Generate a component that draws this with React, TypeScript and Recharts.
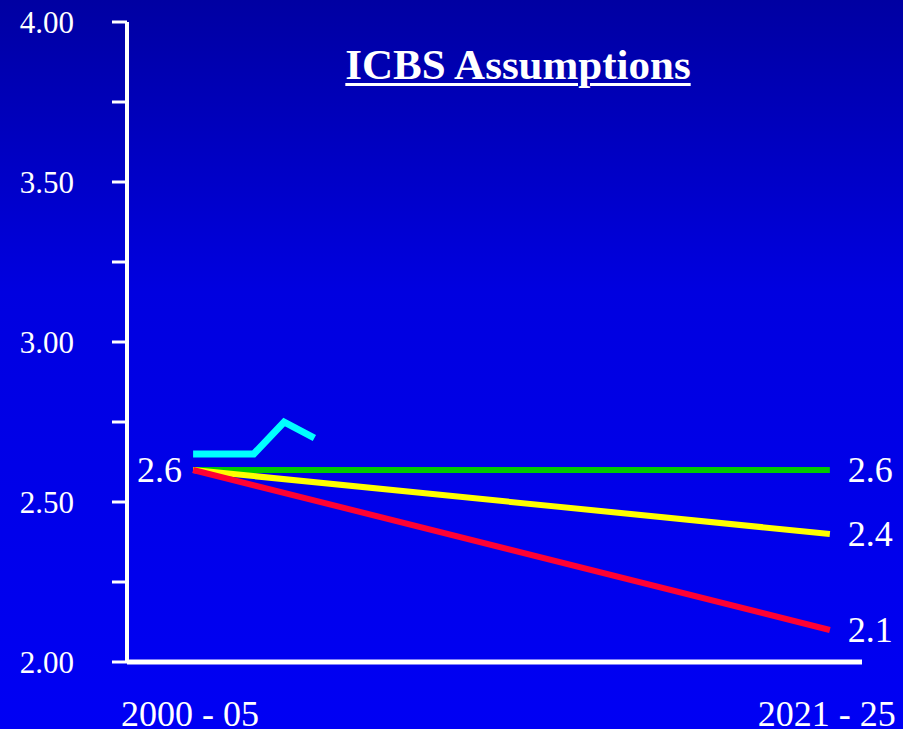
import React from 'react';
import { LineChart, Line, XAxis, YAxis } from 'recharts';

// actual series (yearly)
const actualYears = [2000, 2002, 2003, 2004];
const actualValues = [2.65, 2.65, 2.75, 2.7];

// projection end points
const projYears = [2000, 2021];
const highValues = [2.6, 2.6];
const mediumValues = [2.6, 2.4];
const lowValues = [2.6, 2.1];

const xTicks = [2000, 2021];
const xTickLabels = ['2000 - 05', '2021 - 25'];
const yTicks = [2, 2.25, 2.5, 2.75, 3, 3.25, 3.5, 3.75, 4];

const FONT = "'Liberation Serif', 'Times New Roman', serif";

const actualData = actualYears.map((year, i) => ({ year, value: actualValues[i] }));
const toSeries = (vals: number[]) => projYears.map((year, i) => ({ year, value: vals[i] }));
const highData = toSeries(highValues);
const mediumData = toSeries(mediumValues);
const lowData = toSeries(lowValues);

const endLabel = (lastIndex: number, showStart: boolean) => (props: any) => {
  const { x, y, value, index } = props;
  if (index === lastIndex) {
    return (
      <text x={x + 18} y={y} dy={12} fill="#fff" fontSize={36} fontFamily={FONT} textAnchor="start">
        {value}
      </text>
    );
  }
  if (showStart && index === 0) {
    return (
      <text x={x - 11} y={y} dy={12} fill="#fff" fontSize={36} fontFamily={FONT} textAnchor="end">
        {value}
      </text>
    );
  }
  return <g />;
};

const XTick = (props: any) => {
  const { x, y, payload } = props;
  const i = xTicks.indexOf(payload.value);
  return (
    <text x={x - 3} y={y} dy={25} fill="#fff" fontSize={36} fontFamily={FONT} textAnchor="middle">
      {xTickLabels[i]}
    </text>
  );
};

export default function App() {
  return (
    <div
      style={{
        position: 'absolute',
        left: 0,
        top: 0,
        width: 903,
        height: 729,
        overflow: 'hidden',
        background: 'linear-gradient(to bottom, #0000a2 0%, #0000e0 40%, #0000f4 100%)',
      }}
    >
      <div
        style={{
          position: 'absolute',
          left: 0,
          width: 1036,
          top: 44,
          lineHeight: '42px',
          textAlign: 'center',
          color: '#fff',
          fontFamily: FONT,
          fontWeight: 'bold',
          fontSize: 43,
          textDecoration: 'underline',
          textDecorationThickness: '3px',
          textUnderlineOffset: '4px',
        }}
      >
        ICBS Assumptions
      </div>
      <LineChart width={903} height={729} margin={{ top: 22, right: 41, bottom: 0, left: 0 }}>
        <XAxis
          dataKey="year"
          type="number"
          domain={[1997.82, 2022.06]}
          allowDataOverflow
          ticks={xTicks}
          height={67}
          tickLine={false}
          tickSize={0}
          tickMargin={39}
          axisLine={{ stroke: '#fff', strokeWidth: 5 }}
          tick={<XTick />}
        />
        <YAxis
          type="number"
          domain={[2, 4]}
          ticks={yTicks}
          width={127}
          tickSize={15}
          tickMargin={38}
          axisLine={{ stroke: '#fff', strokeWidth: 4 }}
          tickLine={{ stroke: '#fff', strokeWidth: 3 }}
          tick={{ fill: '#fff', fontSize: 31, fontFamily: FONT }}
          tickFormatter={(v: number) => (Math.abs(v * 2 - Math.round(v * 2)) < 1e-9 ? v.toFixed(2) : '')}
        />
        <Line data={actualData} dataKey="value" stroke="#00ffff" strokeWidth={7} dot={false} isAnimationActive={false} strokeLinejoin="miter" />
        <Line data={highData} dataKey="value" stroke="#00c800" strokeWidth={6} dot={false} isAnimationActive={false} label={endLabel(1, false)} />
        <Line data={mediumData} dataKey="value" stroke="#ffff00" strokeWidth={6} dot={false} isAnimationActive={false} label={endLabel(1, false)} />
        <Line data={lowData} dataKey="value" stroke="#ff0033" strokeWidth={6} dot={false} isAnimationActive={false} label={endLabel(1, true)} />
      </LineChart>
    </div>
  );
}
